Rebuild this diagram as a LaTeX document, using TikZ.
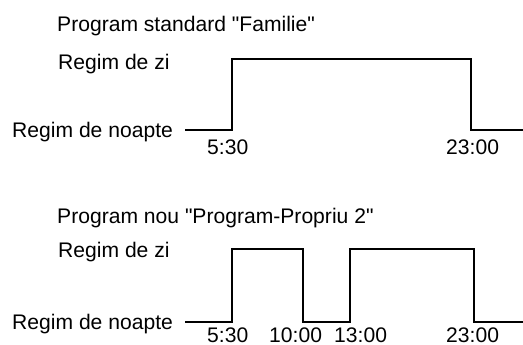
\documentclass[tikz,border=0pt]{standalone}
\usepackage{fontspec}
\setmainfont{Liberation Sans}
\begin{document}
\begin{tikzpicture}[x=1pt,y=-1pt,
  lbl/.style={anchor=base west,inner sep=0pt,font=\fontsize{21.1}{25}\selectfont},
  wave/.style={line width=2.6pt,line join=miter,line cap=rect}]
\useasboundingbox (0,0) rectangle (523,345);
% top diagram
\node[lbl] (t1) at (57,32) {Program standard \textquotedbl Familie\textquotedbl};
\node[lbl] (z1) at (58,70) {Regim de zi};
\node[lbl] (n1) at (12,138) {Regim de noapte};
\node[lbl] (a1) at (207,155) {5:30};
\node[lbl] (b1) at (446,155) {23:00};
\coordinate (s1) at (186,130);
\coordinate (u1) at (232,130);
\coordinate (v1) at (232,59);
\coordinate (w1) at (471,59);
\coordinate (x1) at (471,130);
\coordinate (e1) at (524,130);
\draw[wave] (s1) -- (u1) -- (v1) -- (w1) -- (x1) -- (e1);
% bottom diagram
\node[lbl] (t2) at (57,223) {Program nou \textquotedbl Program-Propriu 2\textquotedbl};
\node[lbl] (z2) at (58,257) {Regim de zi};
\node[lbl] (n2) at (12,329) {Regim de noapte};
\node[lbl] (a2) at (207,342) {5:30};
\node[lbl] (c2) at (269,342) {10:00};
\node[lbl] (d2) at (334,342) {13:00};
\node[lbl] (b2) at (446,342) {23:00};
\coordinate (s2) at (186,322);
\coordinate (p1) at (232,322);
\coordinate (p2) at (232,249);
\coordinate (p3) at (303,249);
\coordinate (p4) at (303,322);
\coordinate (p5) at (350,322);
\coordinate (p6) at (350,249);
\coordinate (p7) at (474,249);
\coordinate (p8) at (474,322);
\coordinate (e2) at (524,322);
\draw[wave] (s2) -- (p1) -- (p2) -- (p3) -- (p4) -- (p5) -- (p6) -- (p7) -- (p8) -- (e2);
\end{tikzpicture}
\end{document}
